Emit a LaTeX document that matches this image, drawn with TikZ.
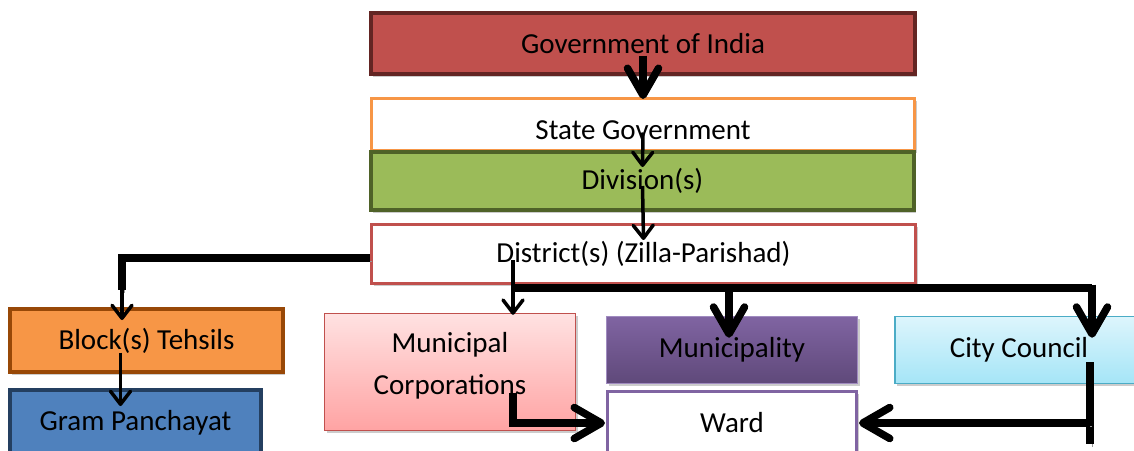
\documentclass[tikz,border=0pt]{standalone}
\usepackage{fontspec}
\setmainfont{Carlito}
\usetikzlibrary{arrows.meta,shadows}

\definecolor{govFill}{HTML}{C0504D}
\definecolor{govDraw}{HTML}{632523}
\definecolor{stateDraw}{HTML}{F79646}
\definecolor{divFill}{HTML}{9BBB59}
\definecolor{divDraw}{HTML}{4F6228}
\definecolor{distDraw}{HTML}{C0504D}
\definecolor{blockFill}{HTML}{F79646}
\definecolor{blockDraw}{HTML}{984807}
\definecolor{gramFill}{HTML}{4F81BD}
\definecolor{gramDraw}{HTML}{243F60}
\definecolor{mcTop}{HTML}{FFE2E2}
\definecolor{mcBot}{HTML}{FFA3A3}
\definecolor{mcDraw}{HTML}{C0504D}
\definecolor{muniTop}{HTML}{8064A2}
\definecolor{muniBot}{HTML}{5F497A}
\definecolor{muniDraw}{HTML}{A08BC0}
\definecolor{cityTop}{HTML}{DDF5FC}
\definecolor{cityBot}{HTML}{A5E5F7}
\definecolor{cityDraw}{HTML}{4BACC6}
\definecolor{wardDraw}{HTML}{8064A2}

\begin{document}
\begin{tikzpicture}[x=1pt,y=-1pt,
  box/.style={draw, rectangle, inner sep=0pt, align=center,
    font=\fontsize{29}{35}\selectfont,
    drop shadow={shadow xshift=2pt, shadow yshift=-2.5pt, fill=black!40, opacity=0.5}},
  lineshadow/.style={preaction={draw=black!40, transform canvas={xshift=2pt,yshift=-3pt}}},
  thinarrow/.style={line width=3.5pt, -{Straight Barb[length=13pt,width=20pt,round]}},
  thickline/.style={line width=7.5pt, lineshadow},
  bigarrow/.style={line width=7.5pt, lineshadow, -{Straight Barb[length=27pt,width=31pt,round]}},
]
\useasboundingbox (0,0) rectangle (1134,450);
\clip (0,0) rectangle (1134,450);

% central chain
\node[box, fill=govFill, draw=govDraw, line width=4pt,
      minimum width=544pt, minimum height=61pt] (gov) at (643,43.5) {Government of India};
\node[box, fill=white, draw=stateDraw, line width=3pt,
      minimum width=543pt, minimum height=52pt] (state) at (643,124.5) {};
\node[font=\fontsize{29}{35}\selectfont] (stateText) at (643,130) {State Government};
\node[box, fill=divFill, draw=divDraw, line width=4pt,
      minimum width=543pt, minimum height=58pt] (division) at (642.5,181) {Division(s)};
\node[box, fill=white, draw=distDraw, line width=3pt,
      minimum width=544pt, minimum height=59pt] (district) at (643.5,254) {District(s) (Zilla-Parishad)};

% rural branch
\node[box, fill=blockFill, draw=blockDraw, line width=4pt,
      minimum width=273pt, minimum height=63pt] (block) at (146.5,340.5) {Block(s) Tehsils};
\node[box, fill=gramFill, draw=gramDraw, line width=4pt,
      minimum width=251pt, minimum height=66pt] (gram) at (135.5,423) {Gram Panchayat};

% urban branch
\node[box, top color=mcTop, bottom color=mcBot, draw=mcDraw, line width=1.5pt,
      minimum width=251pt, minimum height=117pt] (munic) at (450,372) {};
\node[font=\fontsize{29}{42}\selectfont, align=center] (municText) at (450,366) {Municipal\\Corporations};
\node[box, top color=muniTop, bottom color=muniBot, draw=muniDraw, line width=1.5pt,
      minimum width=251pt, minimum height=67pt] (muni) at (732,350) {Municipality};
\node[box, top color=cityTop, bottom color=cityBot, draw=cityDraw, line width=1.5pt,
      minimum width=248pt, minimum height=67pt] (city) at (1019,350) {City Council};
\node[box, fill=white, draw=wardDraw, line width=3pt,
      minimum width=249pt, minimum height=64pt] (ward) at (732,423) {Ward};

% junction points of the connectors
\coordinate (jL) at (122,290);
\coordinate (busL) at (513,288);
\coordinate (busR) at (1092,288);
\coordinate (mcOut) at (513,393);
\coordinate (ccOut) at (1090,362);
\coordinate (ccEnd) at (1090,444);

% central chain connectors
\draw[bigarrow] ([yshift=-12pt]gov.center) -- ([yshift=-2pt]state.north);
\draw[thinarrow] ([yshift=-8pt]state.center) -- ([yshift=-17pt]division.north);
\draw[thinarrow] ([yshift=-5pt]division.center) -- ([yshift=-17pt]district.north);

% district to blocks
\draw[thickline] ([yshift=-4pt]district.west) -| (jL);
\draw[thinarrow] ([yshift=2pt]jL) -- ([yshift=-13pt]jL |- block.north);
\draw[thinarrow] ([xshift=-26pt,yshift=-12pt]block.center) -- ([xshift=-15pt,yshift=-18pt]gram.north);

% district to urban bodies
\draw[thinarrow] ([yshift=-6pt]busL |- district.center) -- ([yshift=-2pt]busL |- munic.north);
\draw[thickline] (busL) -- (busR);
\draw[bigarrow] ([xshift=-3pt]busL -| muni.north) -- ([xshift=-3pt,yshift=-22pt]muni.north);
\draw[bigarrow] ([yshift=3.5pt]busR) -- ([yshift=-22pt]busR |- city.north);

% urban bodies to ward
\draw[bigarrow] (mcOut) |- ([xshift=-1pt]ward.west);
\draw[thickline] (ccOut) -- (ccEnd);
\draw[bigarrow] (ccOut |- ward.east) -- ([xshift=1pt]ward.east);
\end{tikzpicture}
\end{document}
